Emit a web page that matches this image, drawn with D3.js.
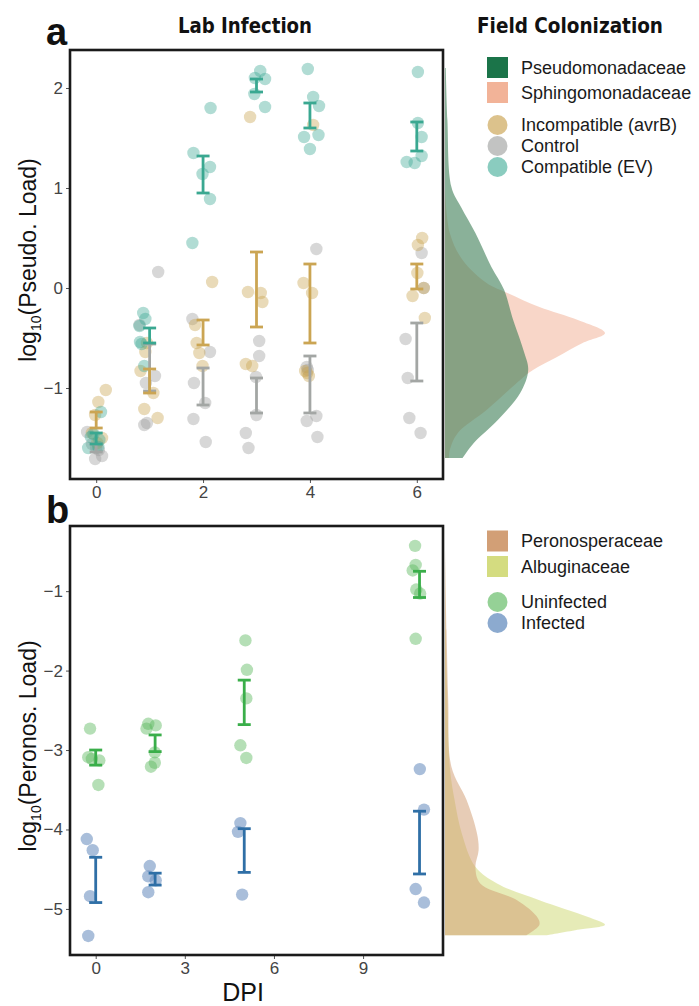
<!DOCTYPE html>
<html>
<head>
<meta charset="utf-8">
<script src="https://cdn.jsdelivr.net/npm/d3@7/dist/d3.min.js"></script>
<style>
  body { margin: 0; background: #fff; }
  text { font-family: "Liberation Sans", Arial, sans-serif; }
  .cond { font-family: "Liberation Sans Narrow", "DejaVu Sans Condensed", "Liberation Sans", Arial, sans-serif; font-weight: bold; }
</style>
</head>
<body>
<svg id="chart"></svg>
<script>
// ---- panel a : lab infection with Pseudomonas, [dpi (jittered), log10 load]
var dpiA = [0, 2, 4, 6];

var compatible = [
  [0.09,-1.24],[-0.10,-1.49],[-0.15,-1.60],[0.04,-1.59],[0.06,-1.52],[-0.05,-1.46],
  [0.88,-0.25],[0.92,-0.31],[0.81,-0.38],[0.82,-0.54],[0.90,-0.78],[0.85,-0.56],
  [2.14,1.80],[1.82,1.35],[2.13,1.21],[1.99,1.14],[2.13,0.89],[1.80,0.45],
  [3.07,2.17],[2.97,2.10],[3.16,2.09],[2.96,1.94],[3.16,1.81],
  [3.96,2.19],[4.06,1.91],[4.17,1.82],[3.89,1.51],[4.16,1.53],[4.00,1.39],
  [6.02,2.16],[6.02,1.65],[6.09,1.51],[6.09,1.32],[5.81,1.26],[5.96,1.25]
];
var incompatible = [
  [0.18,-1.02],[0.04,-1.14],[-0.02,-1.27],[0.11,-1.50],[0.02,-1.55],[-0.08,-1.45],
  [0.92,-0.64],[0.83,-0.83],[1.07,-1.05],[0.90,-1.21],[1.15,-1.30],[0.95,-0.55],
  [2.17,0.06],[1.85,-0.37],[1.88,-0.55],[1.93,-0.65],[1.99,-0.78],
  [2.88,1.71],[2.84,-0.04],[3.08,-0.05],[3.11,-0.14],[2.80,-0.76],[2.92,-0.78],
  [4.06,1.63],[3.88,0.05],[4.04,-0.05],[3.91,-0.83],[3.98,-0.88],[3.95,-0.85],
  [6.10,0.50],[6.02,0.43],[6.01,0.15],[6.13,0.00],[5.92,-0.08],[6.15,-0.30]
];
var control = [
  [-0.17,-1.44],[-0.02,-1.71],[0.11,-1.68],[0.00,-1.60],[-0.08,-1.56],[0.05,-1.62],
  [1.16,0.16],[0.81,-0.37],[1.10,-0.88],[0.93,-0.95],[0.95,-1.35],[0.90,-1.37],
  [1.80,-0.31],[2.13,-0.64],[1.83,-0.95],[2.04,-1.15],[1.82,-1.31],[2.05,-1.54],
  [3.05,-0.53],[3.05,-0.68],[2.99,-0.89],[3.00,-1.27],[2.80,-1.45],[2.85,-1.60],
  [4.12,0.39],[3.94,-0.79],[4.12,-1.28],[3.94,-1.33],[4.14,-1.49],[3.96,-0.82],
  [6.09,0.35],[6.13,0.00],[5.79,-0.51],[5.83,-0.90],[5.86,-1.30],[6.07,-1.45]
];
// error bars: [dpi, low, high]
var compatibleBars = [[0,-1.56,-1.45],[1,-0.55,-0.40],[2,0.95,1.32],[3,1.96,2.09],[4,1.60,1.85],[6,1.37,1.66]];
var incompatibleBars = [[0,-1.40,-1.24],[1,-1.05,-0.81],[2,-0.57,-0.32],[3,-0.39,0.36],[4,-0.55,0.24],[6,-0.01,0.24]];
var controlBars = [[0,-1.64,-1.56],[1,-1.03,-0.56],[2,-1.17,-0.80],[3,-1.25,-0.90],[4,-1.25,-0.68],[6,-0.93,-0.35]];

// field colonization densities: [log10 load, relative density]
var pseudomonadaceae = [[2.20,0.005],[1.68,0.015],[1.01,0.04],[0.81,0.10],[0.55,0.19],[0.21,0.29],[-0.02,0.37],
  [-0.29,0.42],[-0.62,0.49],[-0.82,0.52],[-1.05,0.47],[-1.32,0.33],[-1.55,0.18],[-1.70,0.11]];
var sphingomonadaceae = [[1.00,0.0],[0.55,0.03],[0.28,0.11],[0.05,0.26],[-0.05,0.39],[-0.19,0.59],[-0.32,0.83],
  [-0.45,1.00],[-0.55,0.86],[-0.69,0.70],[-0.82,0.55],[-0.92,0.47],[-1.22,0.26],[-1.45,0.08],[-1.62,0.03],[-1.70,0.025]];

// ---- panel b : Hyaloperonospora, [dpi (jittered), log10 load]
var dpiB = [0, 3, 6, 9];
var uninfected = [
  [-0.19,-2.73],[-0.25,-3.09],[-0.13,-3.11],[0.12,-3.13],[0.09,-3.44],
  [1.77,-2.67],[2.02,-2.69],[1.71,-2.73],[1.99,-3.03],[1.99,-3.16],[1.86,-3.21],
  [5.04,-1.62],[5.09,-1.99],[5.07,-2.35],[4.87,-2.94],[5.07,-3.10],
  [10.75,-0.43],[10.77,-0.67],[10.67,-0.74],[10.79,-0.98],[10.92,-1.03],[10.77,-1.60]
];
var infected = [
  [-0.30,-4.12],[-0.10,-4.26],[-0.19,-4.84],[-0.25,-5.34],
  [1.82,-4.46],[1.77,-4.59],[2.02,-4.64],[1.77,-4.79],
  [4.87,-3.92],[4.79,-4.03],[4.93,-4.82],
  [10.91,-3.24],[11.05,-3.75],[10.77,-4.75],[11.05,-4.92]
];
var uninfectedBars = [[0,-3.19,-3.00],[2,-3.02,-2.81],[5,-2.68,-2.12],[10.9,-1.08,-0.75]];
var infectedBars = [[0,-4.92,-4.35],[2,-4.70,-4.55],[5,-4.54,-3.99],[10.9,-4.56,-3.77]];

var peronosporaceae = [[-0.44,0.0],[-1.50,0.01],[-2.37,0.02],[-3.21,0.04],[-3.63,0.135],[-4.05,0.20],[-4.26,0.21],
  [-4.47,0.19],[-4.68,0.22],[-4.89,0.45],[-5.10,0.575],[-5.20,0.59],[-5.33,0.51]];
var albuginaceae = [[-0.44,0.0],[-1.50,0.005],[-2.37,0.015],[-3.21,0.03],[-3.63,0.06],[-4.05,0.105],[-4.47,0.19],
  [-4.68,0.325],[-4.89,0.59],[-5.10,0.89],[-5.20,1.0],[-5.26,0.84],[-5.33,0.64]];

var width = 699, height = 1006;

var svg = d3.select("#chart")
  .attr("width", width)
  .attr("height", height);

var xA = d3.scaleLinear().domain([-0.49, 6.49]).range([70, 443]);
var yA = d3.scaleLinear().domain([-1.91, 2.38]).range([479, 50]);
var xB = d3.scaleLinear().domain([-0.865, 11.69]).range([70, 443]);
var yB = d3.scaleLinear().domain([-5.58, -0.18]).range([955, 526]);
var dens = d3.scaleLinear().domain([0, 1]).range([445, 605]);

function densityArea(y) {
  return d3.area()
    .y(d => y(d[0]))
    .x0(dens(0))
    .x1(d => dens(d[1]))
    .curve(d3.curveCatmullRom);
}

function points(g, data, x, y, color, op) {
  g.append("g").selectAll("circle")
    .data(data)
    .enter().append("circle")
    .attr("cx", d => x(d[0]))
    .attr("cy", d => y(d[1]))
    .attr("r", 6.2)
    .style("fill", color)
    .style("fill-opacity", op);
}

function bars(g, data, x, y, color) {
  var b = g.append("g").selectAll("g")
    .data(data)
    .enter().append("g")
    .style("stroke", color)
    .style("stroke-width", 2.8);
  b.append("line")
    .attr("x1", d => x(d[0])).attr("x2", d => x(d[0]))
    .attr("y1", d => y(d[1])).attr("y2", d => y(d[2]));
  b.append("line")
    .attr("x1", d => x(d[0]) - 6.5).attr("x2", d => x(d[0]) + 6.5)
    .attr("y1", d => y(d[1])).attr("y2", d => y(d[1]));
  b.append("line")
    .attr("x1", d => x(d[0]) - 6.5).attr("x2", d => x(d[0]) + 6.5)
    .attr("y1", d => y(d[2])).attr("y2", d => y(d[2]));
}

function axes(g, x, y, xt, yt) {
  var ax = g.append("g")
    .attr("transform", "translate(0," + y.range()[0] + ")")
    .call(d3.axisBottom(x).tickValues(xt).tickSize(4).tickPadding(3).tickFormat(d3.format("d")));
  var ay = g.append("g")
    .attr("transform", "translate(" + x.range()[0] + ",0)")
    .call(d3.axisLeft(y).tickValues(yt).tickSize(4).tickPadding(3).tickFormat(d3.format("d")));
  [ax, ay].forEach(function (a) {
    a.select(".domain").remove();
    a.selectAll("line").style("stroke", "#555");
    a.selectAll("text")
      .style("font-size", "17px")
      .style("fill", "#444")
      .style("font-family", "'Liberation Sans', Arial, sans-serif");
  });
}

function frame(g, x, y) {
  g.append("rect")
    .attr("x", x.range()[0])
    .attr("y", y.range()[1])
    .attr("width", x.range()[1] - x.range()[0])
    .attr("height", y.range()[0] - y.range()[1])
    .style("fill", "none")
    .style("stroke", "#1a1a1a")
    .style("stroke-width", 2.6);
}

function yLabel(g, cx, cy, name) {
  var t = g.append("text")
    .attr("transform", "translate(" + cx + "," + cy + ") rotate(-90)")
    .attr("text-anchor", "middle")
    .style("font-size", "23px")
    .style("fill", "#111");
  t.append("tspan").text("log");
  t.append("tspan").text("10").style("font-size", "14px").attr("dy", 5);
  t.append("tspan").text("(" + name + ")").attr("dy", -5);
}

function legend(g, x0, items) {
  var it = g.selectAll("g.item")
    .data(items)
    .enter().append("g")
    .attr("class", "item")
    .attr("transform", d => "translate(" + x0 + "," + d.y + ")");
  it.filter(d => d.shape == "square").append("rect")
    .attr("x", 0).attr("y", -10.5).attr("width", 21).attr("height", 21)
    .style("fill", d => d.color);
  it.filter(d => d.shape == "circle").append("circle")
    .attr("cx", 10.5).attr("cy", 0).attr("r", 10)
    .style("fill", d => d.color)
    .style("fill-opacity", 0.65);
  it.append("text")
    .attr("x", 34).attr("y", 6.3)
    .style("font-size", "18px")
    .style("fill", "#1a1a1a")
    .text(d => d.label);
}

// ---------- panel a
var ga = svg.append("g");

ga.append("path").datum(sphingomonadaceae)
  .attr("d", densityArea(yA))
  .style("fill", "#f3b49a").style("fill-opacity", 0.55);
ga.append("path").datum(pseudomonadaceae)
  .attr("d", densityArea(yA))
  .style("fill", "#3c7d55").style("fill-opacity", 0.6);

points(ga, control, xA, yA, "#9c9c9c", 0.4);
points(ga, incompatible, xA, yA, "#c9a24e", 0.4);
points(ga, compatible, xA, yA, "#3ca893", 0.4);
bars(ga, controlBars, xA, yA, "#a3a6a4");
bars(ga, incompatibleBars, xA, yA, "#cba553");
bars(ga, compatibleBars, xA, yA, "#3aa891");

axes(ga, xA, yA, dpiA, [-1, 0, 1, 2]);
frame(ga, xA, yA);
yLabel(ga, 36, 260, "Pseudo. Load");

legend(ga, 487, [
  {label: "Pseudomonadaceae", color: "#1b7449", shape: "square", y: 67.5},
  {label: "Sphingomonadaceae", color: "#f2b398", shape: "square", y: 92.5},
  {label: "Incompatible (avrB)", color: "#c9a24e", shape: "circle", y: 125},
  {label: "Control", color: "#a2a3a1", shape: "circle", y: 146},
  {label: "Compatible (EV)", color: "#4cb09c", shape: "circle", y: 167}
]);

// ---------- panel b
var gb = svg.append("g");

gb.append("path").datum(albuginaceae)
  .attr("d", densityArea(yB))
  .style("fill", "#d2db7c").style("fill-opacity", 0.55);
gb.append("path").datum(peronosporaceae)
  .attr("d", densityArea(yB))
  .style("fill", "#d09a6e").style("fill-opacity", 0.5);

points(gb, uninfected, xB, yB, "#5cb85e", 0.45);
points(gb, infected, xB, yB, "#6f92c2", 0.6);
bars(gb, uninfectedBars, xB, yB, "#3aae4a");
bars(gb, infectedBars, xB, yB, "#2f6fa6");

axes(gb, xB, yB, dpiB, [-5, -4, -3, -2, -1]);
frame(gb, xB, yB);
yLabel(gb, 36, 746, "Peronos. Load");

legend(gb, 487, [
  {label: "Peronosperaceae", color: "#d29f76", shape: "square", y: 541},
  {label: "Albuginaceae", color: "#d4dc80", shape: "square", y: 566.5},
  {label: "Uninfected", color: "#5cb85e", shape: "circle", y: 602},
  {label: "Infected", color: "#4f7db5", shape: "circle", y: 623}
]);

// ---------- titles (condensed look via textLength)
svg.append("text").attr("class", "cond")
  .attr("x", 245).attr("y", 33).attr("text-anchor", "middle")
  .attr("textLength", 134).attr("lengthAdjust", "spacingAndGlyphs")
  .style("font-size", "22px").style("fill", "#111")
  .text("Lab Infection");
svg.append("text").attr("class", "cond")
  .attr("x", 570).attr("y", 33).attr("text-anchor", "middle")
  .attr("textLength", 186).attr("lengthAdjust", "spacingAndGlyphs")
  .style("font-size", "22px").style("fill", "#111")
  .text("Field Colonization");
svg.append("text")
  .attr("x", 46).attr("y", 45)
  .style("font-size", "38px").style("font-weight", "bold").style("fill", "#111")
  .text("a");
svg.append("text")
  .attr("x", 46).attr("y", 523)
  .style("font-size", "38px").style("font-weight", "bold").style("fill", "#111")
  .text("b");
svg.append("text")
  .attr("x", 243).attr("y", 1001).attr("text-anchor", "middle")
  .style("font-size", "25px").style("fill", "#111")
  .text("DPI");
</script>
</body>
</html>
